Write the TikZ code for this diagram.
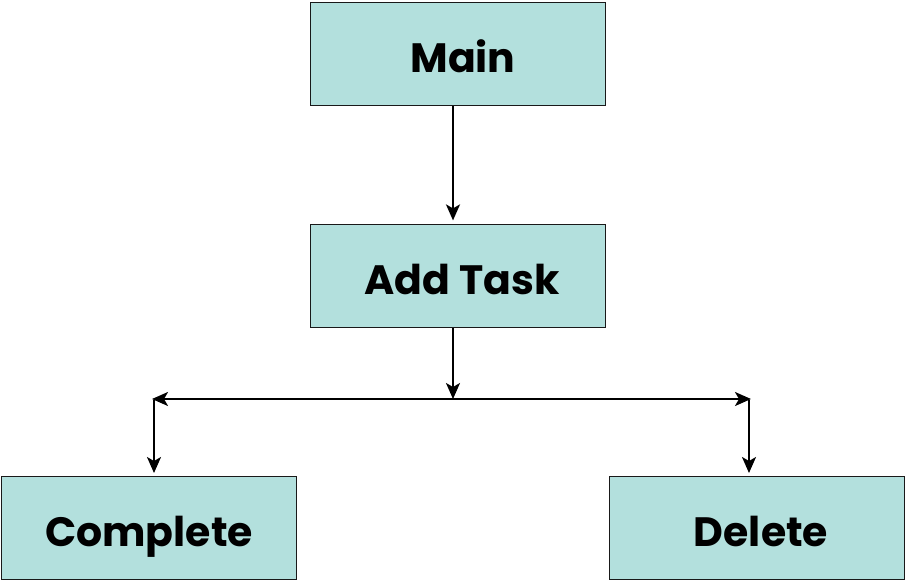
\documentclass[tikz,border=0pt]{standalone}
\usepackage{fontspec}
\setmainfont{Poppins}
\usetikzlibrary{arrows.meta}
\definecolor{boxfill}{RGB}{179,224,221}
\definecolor{boxline}{RGB}{25,25,25}
\tikzset{
  blk/.style={draw=boxline, line width=1.8pt, fill=boxfill, minimum width=295pt, minimum height=103pt, inner sep=0pt, text height=36pt, text depth=0pt, font=\fontsize{41}{48}\selectfont\bfseries, text=black},
  conn/.style={line width=2pt, -{Stealth[length=16pt,width=14pt,inset=4pt]}}
}
\begin{document}
\begin{tikzpicture}[x=1pt,y=-1pt]
\useasboundingbox (0,0) rectangle (906,582);
\node[blk] (main) at (458,54) {\hspace{10pt}Main};
\node[blk] (add) at (458,276) {\hspace{8pt}Add Task};
\node[blk] (comp) at (149,528) {Complete};
\node[blk] (del) at (757,528) {\hspace{8pt}Delete};
\coordinate (j) at (453,399);
\coordinate (l) at (152,399);
\coordinate (r) at (751,399);
\coordinate (lt) at (154,400);
\coordinate (rt) at (749,400);
\draw[conn] (main.south -| j) -- ++(0,114);
\draw[conn] (add.south -| j) -- (j);
\draw[conn] (j) -- (l);
\draw[conn] (j) -- (r);
\draw[conn] (lt) -- ++(0,73);
\draw[conn] (rt) -- ++(0,73);
\end{tikzpicture}
\end{document}
